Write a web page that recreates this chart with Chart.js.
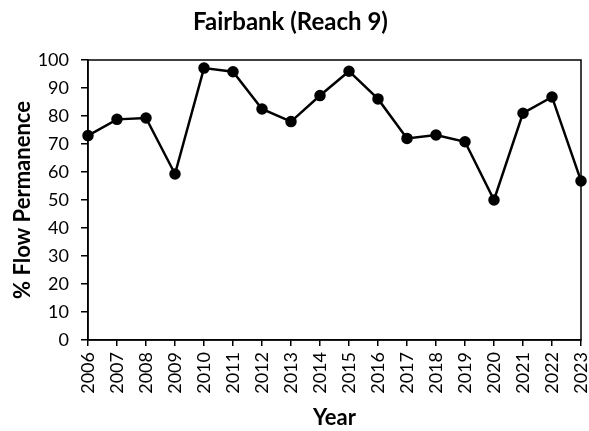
<!DOCTYPE html>
<html>
<head>
<meta charset="utf-8">
<script src="https://cdn.jsdelivr.net/npm/chart.js@4"></script>
<style>
  html, body { margin: 0; padding: 0; background: #fff; }
  #wrap { width: 589px; height: 431px; }
</style>
</head>
<body>
<div id="wrap"><canvas id="c" width="589" height="431"></canvas></div>
<script>
// values
const years = ['2006','2007','2008','2009','2010','2011','2012','2013','2014',
               '2015','2016','2017','2018','2019','2020','2021','2022','2023'];
const flowPermanence = [73, 78.8, 79.3, 59.3, 97.1, 95.8, 82.5, 78, 87.3,
                        96, 86.1, 72, 73.2, 70.8, 50, 81, 86.8, 56.8];
const yTicks = [0, 10, 20, 30, 40, 50, 60, 70, 80, 90, 100];

const FONT = 'Lato, "Liberation Sans", sans-serif';

// box round the plot area (top and right edges)
const frame = {
  id: 'frame',
  afterDraw(chart) {
    const a = chart.chartArea, ctx = chart.ctx;
    ctx.save();
    ctx.strokeStyle = '#000';
    ctx.lineWidth = 1.5;
    ctx.strokeRect(a.left, a.top, a.right - a.left, a.bottom - a.top);
    ctx.restore();
  }
};

new Chart(document.getElementById('c'), {
  type: 'line',
  data: {
    labels: years,
    datasets: [{
      data: flowPermanence,
      borderColor: '#000',
      backgroundColor: '#000',
      borderWidth: 2.5,
      pointRadius: 4.5,
      pointHoverRadius: 4.5,
      tension: 0
    }]
  },
  options: {
    responsive: false,
    animation: false,
    layout: { padding: { top: 0, right: 8, bottom: 0, left: 0 } },
    plugins: {
      legend: { display: false },
      tooltip: { enabled: false },
      title: {
        display: true,
        text: 'Fairbank (Reach 9)',
        color: '#000',
        font: { family: FONT, size: 24, weight: 'bold', lineHeight: 1.2 },
        padding: { top: 8, bottom: 23.2 }
      }
    },
    scales: {
      x: {
        type: 'category',
        offset: false,
        grid: { drawOnChartArea: false, drawTicks: true, tickLength: 6, color: '#000', lineWidth: 1.5 },
        border: { display: true, color: '#000', width: 1.5 },
        ticks: {
          color: '#000', autoSkip: false, maxRotation: 90, minRotation: 90, padding: 6,
          font: { family: FONT, size: 18 }
        },
        title: {
          display: true, text: 'Year', color: '#000',
          font: { family: FONT, size: 22, weight: 'bold', lineHeight: 1.2 },
          padding: { top: 0, bottom: 0 }
        },
        afterFit(s) { s.height = 91; s.paddingLeft = 0; s.paddingRight = 0; }
      },
      y: {
        min: 0, max: 100,
        afterBuildTicks(s) { s.ticks = yTicks.map(v => ({ value: v })); },
        grid: { drawOnChartArea: false, drawTicks: true, tickLength: 7, color: '#000', lineWidth: 1.5 },
        border: { display: true, color: '#000', width: 1.5 },
        ticks: { color: '#000', padding: 12, font: { family: FONT, size: 18 } },
        title: {
          display: true, text: '% Flow Permanence', color: '#000',
          font: { family: FONT, size: 22, weight: 'bold', lineHeight: 1.2 },
          padding: { top: 10, bottom: 10 }
        },
        afterFit(s) { s.width = 88; s.paddingTop = 0; s.paddingBottom = 0; }
      }
    }
  },
  plugins: [frame]
});
</script>
</body>
</html>
